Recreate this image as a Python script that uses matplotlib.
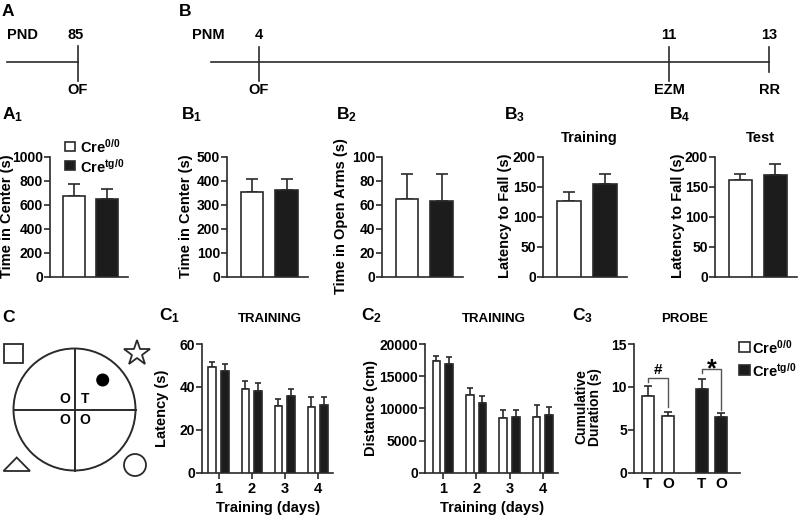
import numpy as np
import matplotlib
matplotlib.use("Agg")
import matplotlib.pyplot as plt
from matplotlib.patches import Rectangle, Circle, Polygon

# ---- data ----
groups = ["Cre$^{0/0}$", "Cre$^{tg/0}$"]

a1_mean = [677, 650]
a1_err = [98, 82]
b1_mean = [354, 362]
b1_err = [56, 48]
b2_mean = [65, 63]
b2_err = [21, 23]
b3_mean = [127, 155]
b3_err = [14, 17]
b4_mean = [162, 170]
b4_err = [10, 18]

days = [1, 2, 3, 4]
c1_wt = [49.4, 39.0, 31.1, 30.5]
c1_wt_err = [2.1, 3.9, 3.1, 4.9]
c1_tg = [47.5, 38.1, 35.6, 31.6]
c1_tg_err = [3.0, 3.9, 3.3, 3.8]

c2_wt = [17350, 12080, 8550, 8700]
c2_wt_err = [850, 1140, 1190, 1820]
c2_tg = [16960, 10780, 8650, 8920]
c2_tg_err = [990, 1190, 1090, 1340]

c3_labels = ["T", "O", "T", "O"]
c3_mean = [8.9, 6.6, 9.75, 6.45]
c3_err = [1.2, 0.5, 1.15, 0.45]

timeline_a = [("85", "OF")]
timeline_b = [("4", "OF"), ("11", "EZM"), ("13", "RR")]

# ---- style ----
plt.rcParams['font.family'] = ['Liberation Sans', 'DejaVu Sans']
plt.rcParams['font.weight'] = 'bold'
plt.rcParams['mathtext.fontset'] = 'custom'
plt.rcParams['mathtext.rm'] = 'Liberation Sans:bold'
plt.rcParams['mathtext.it'] = 'Liberation Sans:bold'
plt.rcParams['mathtext.bf'] = 'Liberation Sans:bold'
plt.rcParams['mathtext.sf'] = 'Liberation Sans:bold'
plt.rcParams['mathtext.default'] = 'rm'

EDGE = '#2a2a2a'
DARK = '#1c1c1c'
LW = 1.2
TICK_FS = 10

W, H = 800, 515
fig = plt.figure(figsize=(W / 100, H / 100), dpi=100)

# full-figure overlay in pixel units for the schematic parts and text
ov = fig.add_axes([0, 0, 1, 1])
ov.set_xlim(0, W)
ov.set_ylim(H, 0)
ov.axis('off')


def px_axes(left, top, right, bottom):
    ax = fig.add_axes([left / W, 1 - bottom / H, (right - left) / W, (bottom - top) / H])
    ax.set_facecolor('none')
    ax.spines[['top', 'right']].set_visible(False)
    ax.spines[['left', 'bottom']].set_color(EDGE)
    ax.spines[['left', 'bottom']].set_linewidth(LW)
    ax.tick_params(axis='y', direction='out', length=4, width=LW, color=EDGE,
                   labelsize=TICK_FS, pad=1)
    return ax


def label(x, y, text, size=10.5, **kw):
    ov.text(x, y, text, fontsize=size, fontweight='bold', ha=kw.pop('ha', 'center'),
            va=kw.pop('va', 'center'), **kw)


def panel_label(x, y, text):
    ov.text(x, y, text, fontsize=12.5, fontweight='bold', ha='left', va='center')


# ---- timelines ----
panel_label(2, 11, "A")
panel_label(179, 11, "B")
line_y = 62
ov.plot([7, 78], [line_y, line_y], color=EDGE, lw=LW)
label(23, 35, "PND")
for (num, test), x in zip(timeline_a, [78]):
    ov.plot([x, x], [46, 81], color=EDGE, lw=LW)
    label(x - 2, 35, num)
    label(x, 90, test)

ov.plot([211, 769], [line_y, line_y], color=EDGE, lw=LW)
label(208, 35, "PNM")
for (num, test), x in zip(timeline_b, [259, 669, 769]):
    ov.plot([x, x], [47, 81 if x < 769 else 72], color=EDGE, lw=LW)
    label(x, 35, num)
    label(x, 90, test)

# ---- top bar panels ----
top_panels = [
    ("A$_1$", 2, 50, 128, 1000, 200, a1_mean, a1_err, "Time in Center (s)", 7, None),
    ("B$_1$", 181, 227, 308, 500, 100, b1_mean, b1_err, "Time in Center (s)", 186, None),
    ("B$_2$", 336, 382, 463, 100, 20, b2_mean, b2_err, "Time in Open Arms (s)", 341, None),
    ("B$_3$", 504, 543, 627, 200, 50, b3_mean, b3_err, "Latency to Fall (s)", 505, "Training"),
    ("B$_4$", 669, 715, 797, 200, 50, b4_mean, b4_err, "Latency to Fall (s)", 678, "Test"),
]
pos = np.arange(2)
for name, lx, left, right, ymax, step, means, errs, ylab, ylx, title in top_panels:
    ax = px_axes(left, 157, right, 277)
    ax.bar(pos, means, width=0.66, color=['white', DARK], edgecolor=EDGE, linewidth=LW, zorder=3)
    ax.errorbar(pos, means, yerr=[np.zeros(2), errs], fmt='none', ecolor=EDGE,
                elinewidth=LW, capsize=4, capthick=LW, zorder=2)
    ax.set_xlim(-0.72, 1.62)
    ax.set_ylim(0, ymax)
    ax.set_yticks(np.arange(0, ymax + 1, step))
    ax.set_xticks([])
    panel_label(lx, 115, name)
    label(ylx, 216, ylab, rotation=90)
    if title:
        label((left + right) / 2 + 4, 138, title)

# ---- C: water maze schematic ----
panel_label(2, 318, "C")
ov.add_patch(Circle((74.5, 409.5), 61, facecolor='none', edgecolor=EDGE, lw=1.4))
ov.plot([74.5, 74.5], [348.5, 470.5], color=EDGE, lw=1.4)
ov.plot([13.5, 135.5], [409.5, 409.5], color=EDGE, lw=1.4)
ov.add_patch(Circle((102.7, 380), 5.8, facecolor='black', edgecolor='black'))
label(65.3, 399, "O", size=10)
label(85, 399, "T", size=10)
label(65.3, 420, "O", size=10)
label(85, 420, "O", size=10)
ov.add_patch(Rectangle((3.5, 343.5), 19, 19, facecolor='none', edgecolor=EDGE, lw=1.3))
ov.plot([136.7], [353], marker='*', ms=19, mfc='white', mec=EDGE, mew=1.3)
ov.add_patch(Polygon([(3.5, 471), (30, 471), (16.7, 457.5)], closed=True,
                     facecolor='none', edgecolor=EDGE, lw=1.3))
ov.add_patch(Circle((135, 465), 11, facecolor='none', edgecolor=EDGE, lw=1.3))

# ---- C1 / C2: training curves as grouped bars ----
c_panels = [
    ("C$_1$", 159, 202, 333, 0.5, 4.46, 60, 20, c1_wt, c1_wt_err, c1_tg, c1_tg_err,
     "Latency (s)", 162),
    ("C$_2$", 361, 425, 558, 0.47, 4.45, 20000, 5000, c2_wt, c2_wt_err, c2_tg, c2_tg_err,
     "Distance (cm)", 371),
]
x = np.array(days, dtype=float)
for name, lx, left, right, x0, x1, ymax, step, wt, wte, tg, tge, ylab, ylx in c_panels:
    ax = px_axes(left, 344, right, 472.7)
    ax.bar(x - 0.19, wt, width=0.23, color='white', edgecolor=EDGE, linewidth=LW, zorder=3)
    ax.bar(x + 0.19, tg, width=0.23, color=DARK, edgecolor=EDGE, linewidth=LW, zorder=3)
    ax.errorbar(x - 0.19, wt, yerr=[np.zeros(4), wte], fmt='none', ecolor=EDGE,
                elinewidth=LW, capsize=2.2, capthick=LW, zorder=2)
    ax.errorbar(x + 0.19, tg, yerr=[np.zeros(4), tge], fmt='none', ecolor=EDGE,
                elinewidth=LW, capsize=2.2, capthick=LW, zorder=2)
    ax.set_xlim(x0, x1)
    ax.set_ylim(0, ymax)
    ax.set_yticks(np.arange(0, ymax + 1, step))
    ax.set_xticks(days)
    ax.tick_params(axis='x', direction='out', length=4, width=LW, color=EDGE,
                   labelsize=10.5, pad=3)
    mid = (left + right) / 2
    panel_label(lx, 316, name)
    label(mid + 2, 319.5, "TRAINING", size=9.5)
    label(ylx, 408, ylab, rotation=90)
    label(mid + 1, 508, "Training (days)")

# ---- C3: probe ----
c3_pos = np.array([0, 1, 2.65, 3.6])
ax = px_axes(634, 344, 740, 472.7)
ax.bar(c3_pos, c3_mean, width=0.585, color=['white', 'white', DARK, DARK],
       edgecolor=EDGE, linewidth=LW, zorder=3)
ax.errorbar(c3_pos, c3_mean, yerr=[np.zeros(4), c3_err], fmt='none', ecolor=EDGE,
            elinewidth=LW, capsize=3, capthick=LW, zorder=2)
ax.set_xlim(-0.66, 4.51)
ax.set_ylim(0, 15)
ax.set_yticks([0, 5, 10, 15])
ax.set_xticks(c3_pos)
ax.set_xticklabels(c3_labels)
ax.tick_params(axis='x', length=0, labelsize=11, pad=3)
# significance brackets
ax.plot([c3_pos[0], c3_pos[0], c3_pos[1], c3_pos[1]], [10.6, 11.07, 11.07, 7.7],
        color='#555555', lw=1.0, clip_on=False)
ax.text((c3_pos[0] + c3_pos[1]) / 2, 11.2, "#", ha='center', va='bottom',
        fontsize=11, fontweight='bold')
ax.plot([c3_pos[2], c3_pos[2], c3_pos[3], c3_pos[3]], [11.58, 12.05, 12.05, 7.3],
        color='#555555', lw=1.0, clip_on=False)
ax.text((c3_pos[2] + c3_pos[3]) / 2, 12.0, "*", ha='center', va='center',
        fontsize=18, fontweight='bold')
panel_label(572, 316, "C$_3$")
label(685, 319.5, "PROBE", size=9.5)
label(581, 407, "Cumulative", size=10, rotation=90)
label(595, 407, "Duration (s)", size=10, rotation=90)

# legends (A1 and C3)
for i, (g, fc) in enumerate(zip(groups, ['white', DARK])):
    y = 146 + 19.5 * i
    ov.add_patch(Rectangle((65, y - 4.5), 10, 9, facecolor=fc, edgecolor=EDGE, lw=LW))
    ov.text(80, y + 1, g, fontsize=10.5, fontweight='bold', ha='left', va='center')
    y = 347 + 23 * i
    ov.add_patch(Rectangle((738.5, y - 5), 11, 10, facecolor=fc, edgecolor=EDGE, lw=LW))
    ov.text(752, y + 1, g, fontsize=10.5, fontweight='bold', ha='left', va='center')

fig.savefig("out.png", dpi=100)
